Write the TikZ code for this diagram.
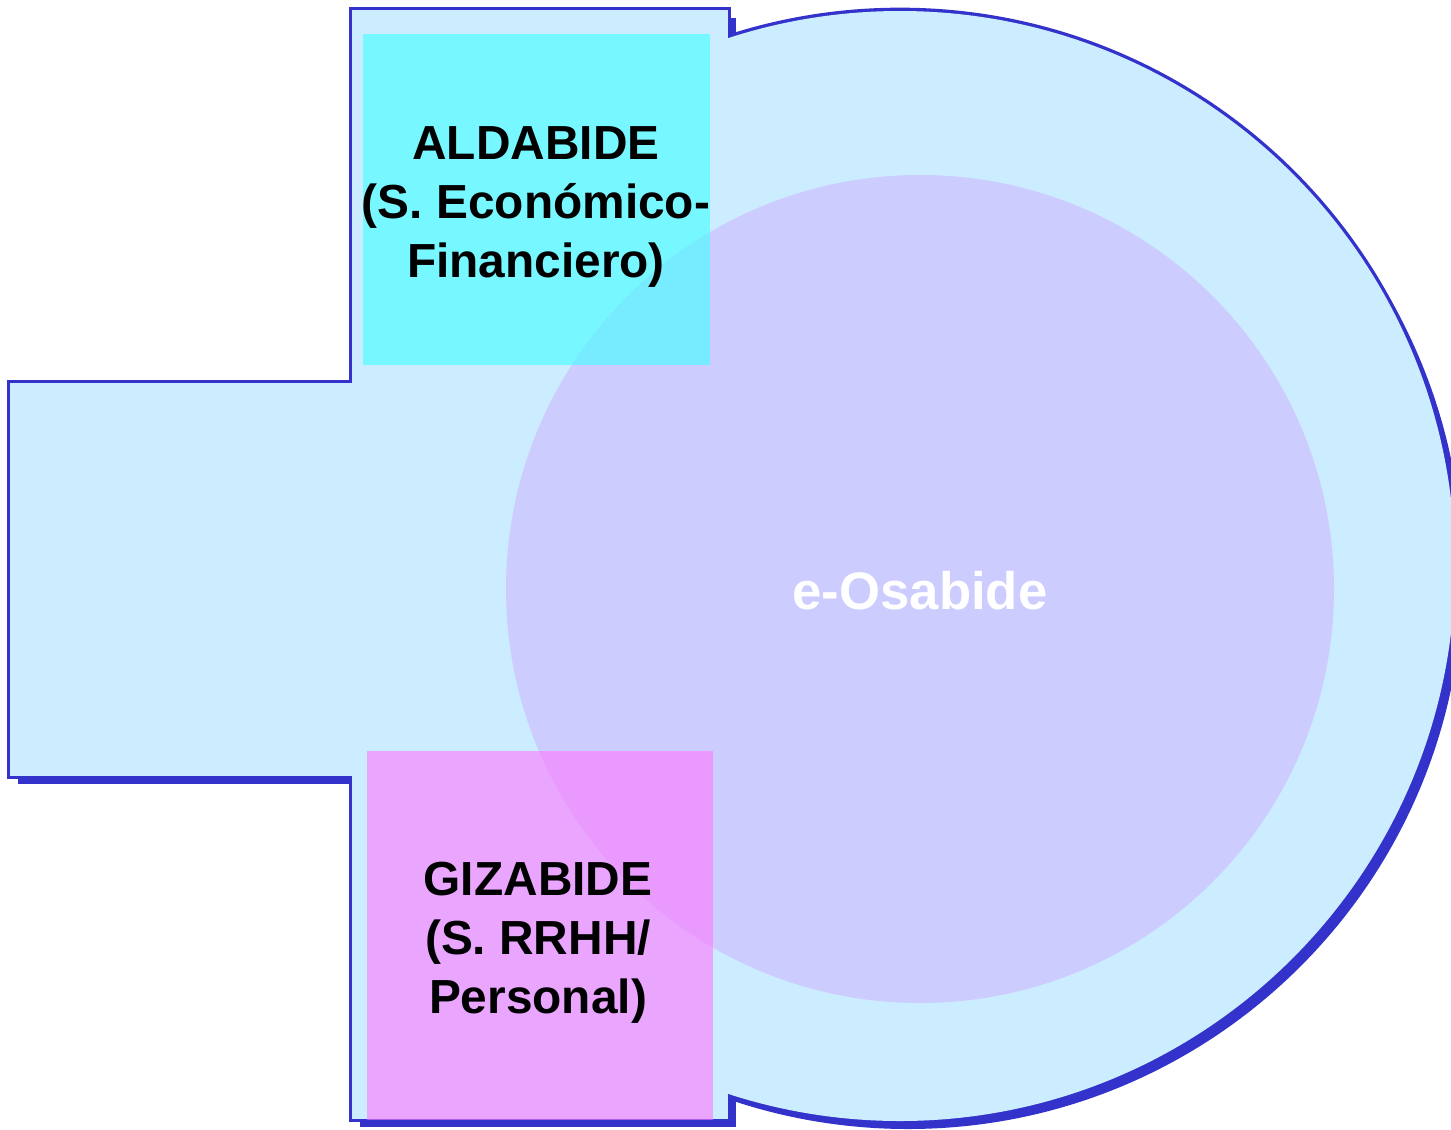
\documentclass[tikz,border=0pt]{standalone}
\usepackage{fontspec}
\setmainfont{Liberation Sans}
\begin{document}
\begin{tikzpicture}[x=0.01cm,y=-0.01cm]
\definecolor{bgblue}{HTML}{CCECFF}
\definecolor{edge}{HTML}{3333CC}
\definecolor{lav}{HTML}{CCCCFF}
\definecolor{cyanbox}{HTML}{44FFFF}
\definecolor{pinkbox}{HTML}{FF77FF}
\tikzset{
  lbl/.style={font=\bfseries\fontsize{13.6}{16.8}\selectfont, align=center, text=black},
  outl/.style={draw=edge, line width=1.9pt, fill=bgblue},
}
\useasboundingbox (0,0) rectangle (1451,1130);
\clip (0,0) rectangle (1451,1130);
% shadows
\fill[edge] (18,391) rectangle (368,784);
\fill[edge] (360,18) rectangle (736,1127);
\fill[edge] (908,574) circle[radius=555];
% outlines
\draw[outl] (10,383) rectangle (360,776);
\draw[outl] (352,10) rectangle (728,1119);
\draw[outl] (900,566) circle[radius=555];
% fills over
\fill[bgblue] (10,383) rectangle (360,776);
\fill[bgblue] (352,10) rectangle (728,1119);
\fill[bgblue] (900,566) circle[radius=555];
% inner circle
\fill[lav] (920,589) circle[radius=414];
% boxes
\fill[cyanbox, opacity=0.62] (363,34) rectangle (710,365);
\fill[pinkbox, opacity=0.6] (367,751) rectangle (713,1120);
% texts
\node[lbl] (ald) at (536,207) {ALDABIDE\\(S. Económico-\\Financiero)};
\node[lbl] (giz) at (538,943) {GIZABIDE\\(S. RRHH/\\Personal)};
\node[font=\bfseries\fontsize{15}{18}\selectfont, text=white] (eos) at (920,591) {e-Osabide};
\end{tikzpicture}
\end{document}
